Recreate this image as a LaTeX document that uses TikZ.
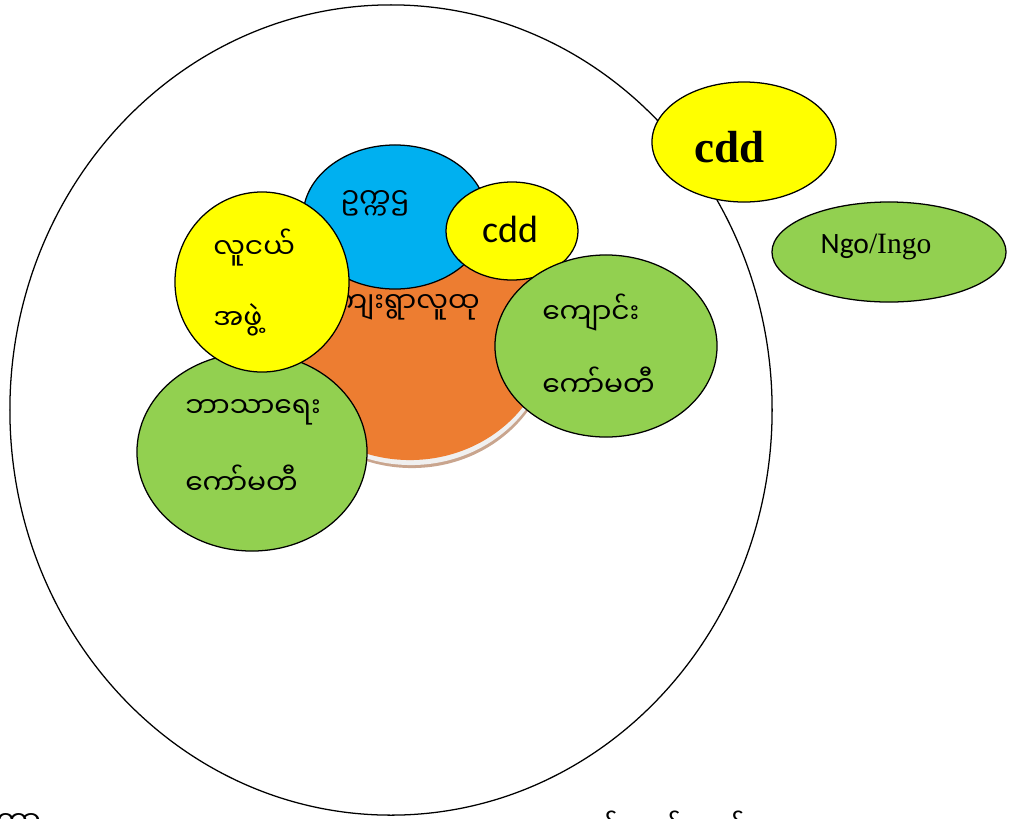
\documentclass[tikz,border=0pt]{standalone}
\usepackage{fontspec}
\usetikzlibrary{shapes.geometric}
\newfontfamily\mm[Script=Myanmar]{Noto Sans Myanmar UI}
\newfontfamily\calfont{Carlito}
\newfontfamily\tmsfont{Liberation Serif}
\definecolor{cyellow}{HTML}{FFFF00}
\definecolor{cblue}{HTML}{00B0F0}
\definecolor{corange}{HTML}{ED7D31}
\definecolor{cgreen}{HTML}{92D050}
\definecolor{cshadowA}{HTML}{C9A58E}
\definecolor{cshadowB}{HTML}{F0F0F0}
\begin{document}
\begin{tikzpicture}[x=0.025cm,y=-0.025cm,
  bubble/.style={ellipse, draw=black, line width=0.9pt, inner sep=0pt},
  esize/.style 2 args={minimum width=#1*0.05cm, minimum height=#2*0.05cm},
  plain/.style={ellipse, draw=none, inner sep=0pt},
  mmtext/.style={font=\mm\fontsize{20}{24}\selectfont, inner sep=0pt, anchor=west}]
\useasboundingbox (0,0) rectangle (1014,818);
% outer circle
\node[bubble, esize={381}{405}] (outer) at (391,410) {};
% orange with shadow
\node[plain, fill=cshadowA, esize={140}{130}] (orshadowA) at (412,338) {};
\node[plain, fill=cshadowB, esize={140}{130}] (orshadowB) at (411,335) {};
\node[plain, fill=corange, esize={140}{130}] (orange) at (410,330) {};
\node[mmtext, anchor=east] (torange) at (480,307) {ကျေးရွာလူထု};
% blue
\node[bubble, fill=cblue, esize={92}{72}] (blue) at (395,217) {};
\node[mmtext, anchor=center] (tblue) at (375,203) {ဥက္ကဌ};
% small cdd
\node[bubble, fill=cyellow, esize={66}{49}] (cdds) at (512,231) {};
\node[font=\calfont\fontsize{27}{30}\selectfont, inner sep=0pt] (tcdds) at (510,229) {cdd};
% green right
\node[bubble, fill=cgreen, esize={111}{91}] (gright) at (606,346) {};
\node[mmtext] (tgr1) at (542,313) {ကျောင်း};
\node[mmtext] (tgr2) at (542,382) {ကော်မတီ};
% green left
\node[bubble, fill=cgreen, esize={115}{99}] (gleft) at (252,452) {};
\node[mmtext] (tgl1) at (185,412) {ဘာသာရေး};
\node[mmtext] (tgl2) at (185,480) {ကော်မတီ};
% yellow youth
\node[bubble, fill=cyellow, esize={87}{90}] (youth) at (262,282) {};
\node[mmtext] (ty1) at (213,248) {လူငယ်};
\node[mmtext] (ty2) at (213,320) {အဖွဲ့};
% big cdd
\node[bubble, fill=cyellow, esize={92}{60}] (cddb) at (744,142) {};
\node[font=\tmsfont\bfseries\fontsize{32}{36}\selectfont, inner sep=0pt, anchor=base] (tcddb) at (730,162) {cdd};
% ngo
\node[bubble, fill=cgreen, esize={117}{50}] (ngo) at (889,252) {};
\node[inner sep=0pt] (tngo) at (876,247) {\calfont\fontsize{21}{24}\selectfont Ngo\tmsfont/Ingo};
% bottom cut texts
\node[mmtext, anchor=north west] (bl) at (-4,813) {တာ};
\node[mmtext, anchor=north west] (br) at (570,811) {ပတ်သက်ဆက်};
\end{tikzpicture}
\end{document}
